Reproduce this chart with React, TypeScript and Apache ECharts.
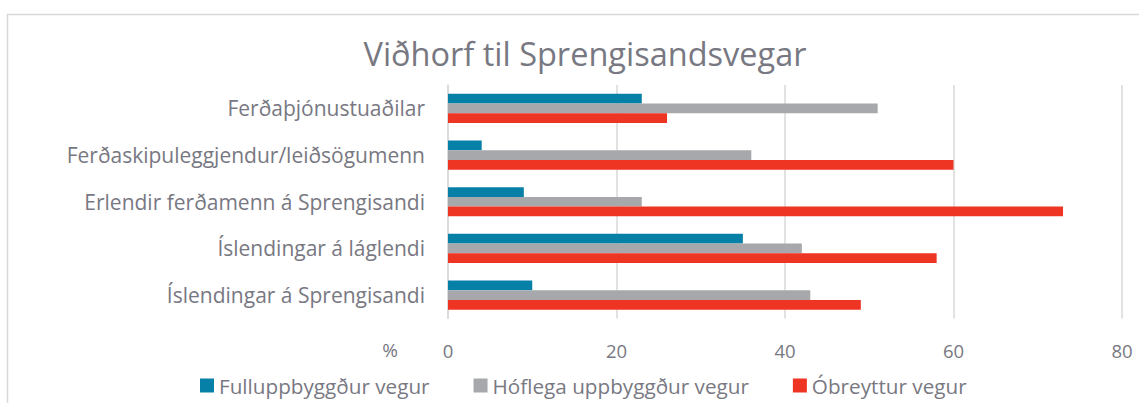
import React, { useEffect, useRef } from "react";
import * as echarts from "echarts";

const categories = [
  "Íslendingar á Sprengisandi",
  "Íslendingar á láglendi",
  "Erlendir ferðamenn á Sprengisandi",
  "Ferðaskipuleggjendur/leiðsögumenn",
  "Ferðaþjónustuaðilar",
];
const seriesNames = ["Fulluppbyggður vegur", "Hóflega uppbyggður vegur", "Óbreyttur vegur"];
const fullBuilt = [10, 35, 9, 4, 23];
const moderate = [43, 42, 23, 36, 51];
const unchanged = [49, 58, 73, 60, 26];
const colors = ["#0780A7", "#A7A8AB", "#EE3524"];

const TEXT = "#787882";
const FONT = "Open Sans";

export default function App() {
  const ref = useRef<HTMLDivElement>(null);
  useEffect(() => {
    if (!ref.current) return;
    const chart = echarts.init(ref.current, null, { renderer: "svg" });
    const values = [fullBuilt, moderate, unchanged];
    chart.setOption({
      animation: false,
      backgroundColor: "#ffffff",
      textStyle: { fontFamily: FONT, color: TEXT },
      title: {
        text: "Viðhorf til Sprengisandsvegar",
        left: 580,
        textAlign: "center",
        top: 32,
        textStyle: { fontFamily: FONT, fontSize: 32.5, fontWeight: "normal", color: TEXT },
      },
      graphic: [
        {
          type: "rect",
          silent: true,
          shape: { x: 7.5, y: 14.5, width: 1200, height: 500 },
          style: { fill: "none", stroke: "#D9D9D9", lineWidth: 1.5 },
        },
        {
          type: "text",
          x: 390,
          y: 350,
          style: {
            text: "%",
            fontFamily: FONT,
            fontSize: 19,
            fill: TEXT,
            align: "center",
            verticalAlign: "middle",
          },
        },
      ],
      legend: {
        data: seriesNames,
        left: 195,
        top: 370,
        icon: "rect",
        itemWidth: 14,
        itemHeight: 14,
        itemGap: 44,
        textStyle: { fontFamily: FONT, fontSize: 20.7, color: TEXT },
      },
      grid: { left: 448, right: 17, top: 85, bottom: 84.5, containLabel: false },
      xAxis: {
        type: "value",
        min: 0,
        max: 80,
        interval: 20,
        axisLine: { show: false },
        axisTick: { show: false },
        axisLabel: { fontFamily: FONT, fontSize: 18.5, color: TEXT, margin: 22 },
        splitLine: { show: true, lineStyle: { color: "#D9D9D9", width: 1.5 } },
      },
      yAxis: {
        type: "category",
        data: categories,
        axisLine: { show: true, lineStyle: { color: "#D9D9D9", width: 1.5 } },
        axisTick: { show: false },
        axisLabel: { fontFamily: FONT, fontSize: 21, color: TEXT, margin: 23 },
      },
      series: seriesNames.map((name, i) => ({
        name,
        type: "bar",
        data: values[i],
        barGap: "0%",
        barCategoryGap: "37.5%",
        itemStyle: { color: colors[i] },
      })),
    });
    return () => chart.dispose();
  }, []);
  return (
    <div
      ref={ref}
      style={{ position: "absolute", left: 0, top: 0, width: 1139, height: 403 }}
    />
  );
}
